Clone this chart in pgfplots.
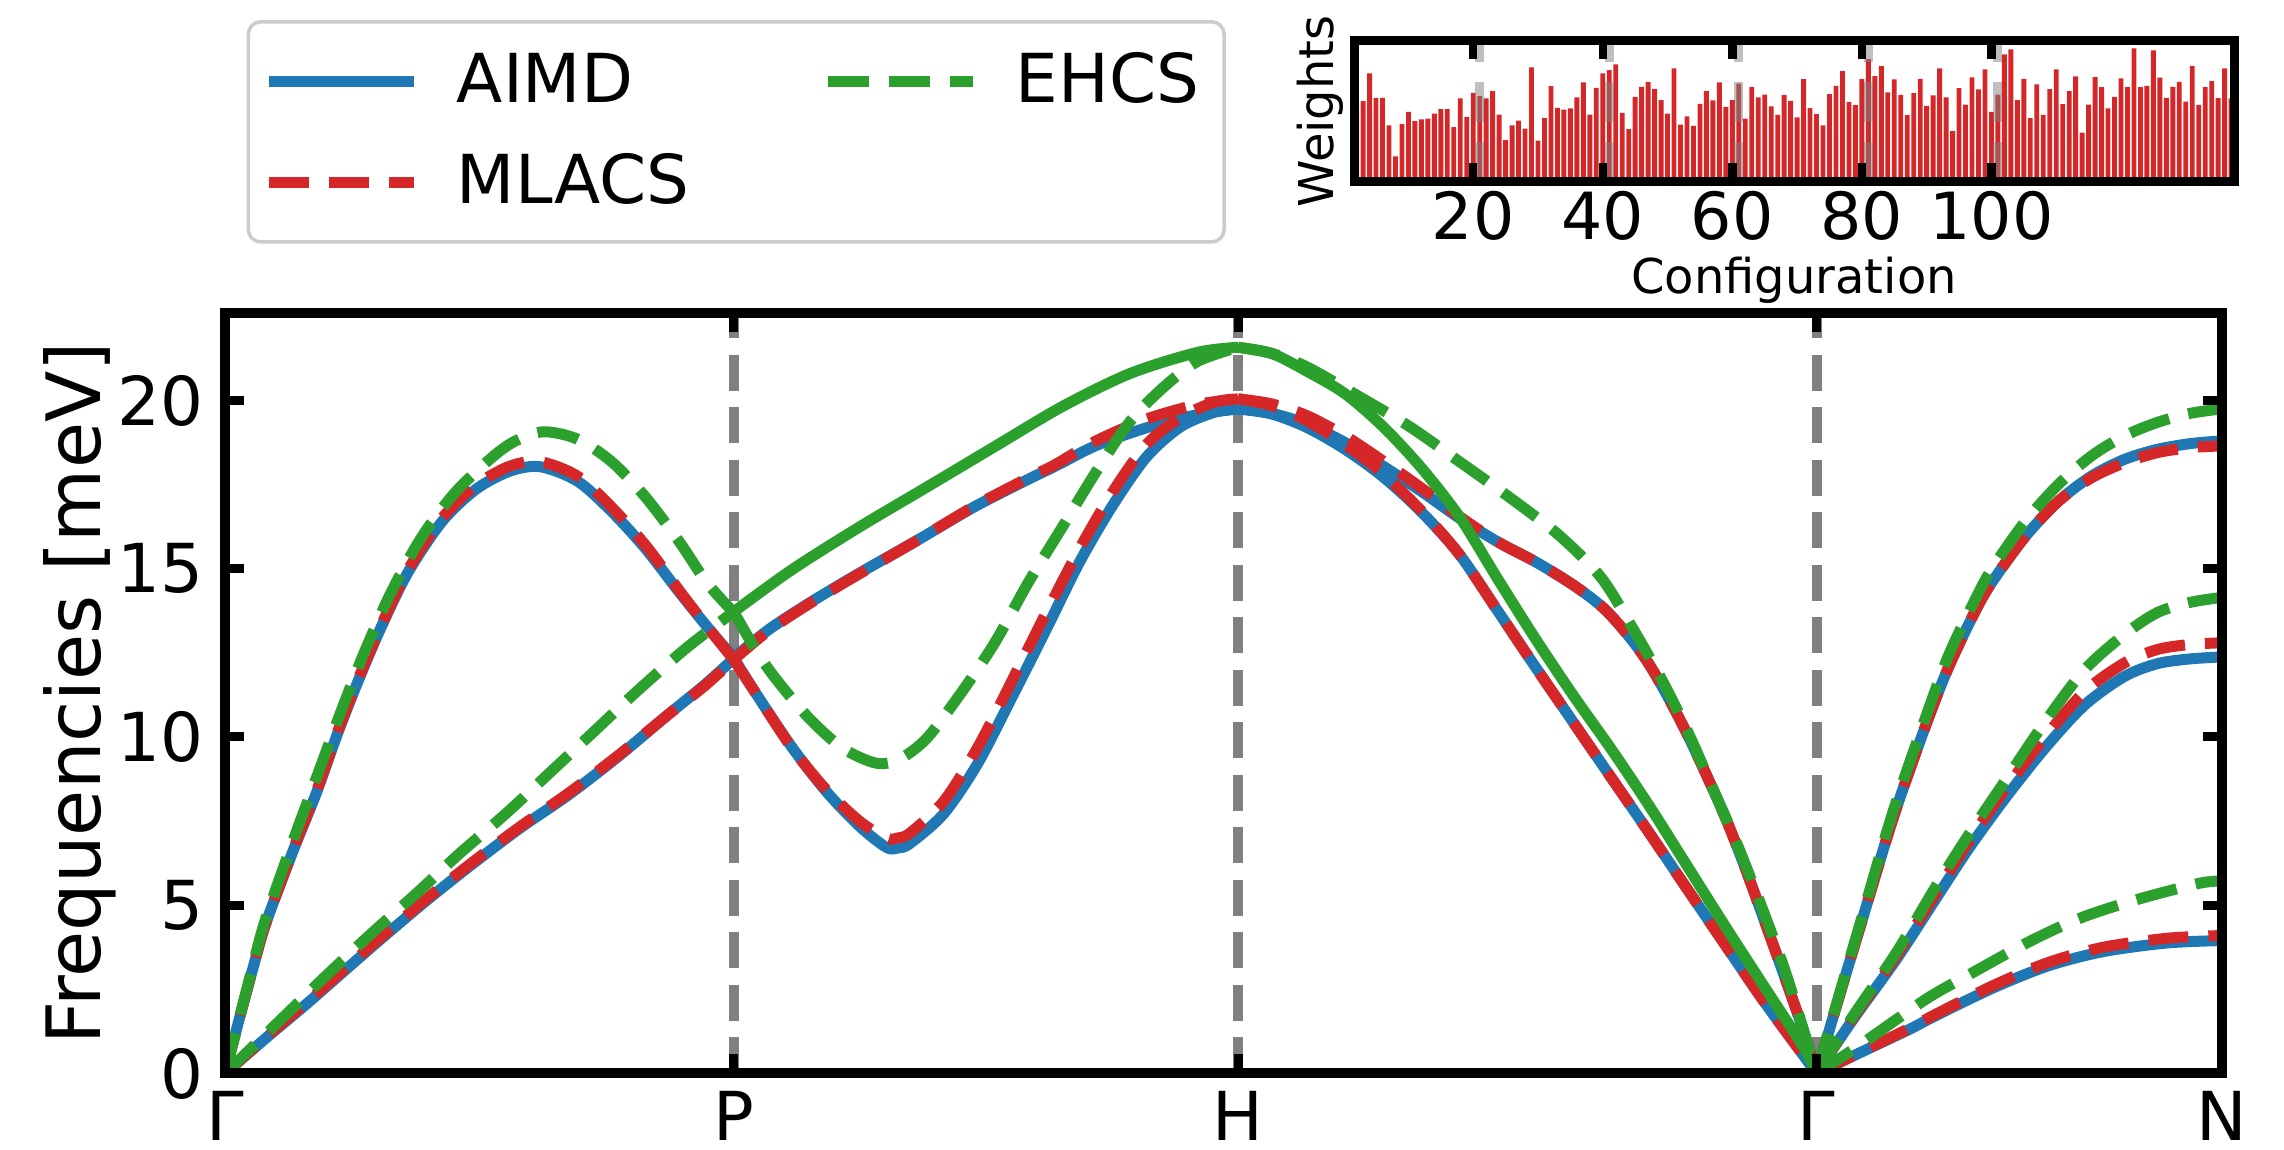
\documentclass[border=0pt]{standalone}
\usepackage{fontspec}
\setmainfont{DejaVu Sans}
\usepackage{pgfplots}
\pgfplotsset{compat=1.18}
\definecolor{tabblue}{HTML}{1F77B4}
\definecolor{tabred}{HTML}{D62728}
\definecolor{tabgreen}{HTML}{2CA02C}
\definecolor{midgray}{HTML}{808080}

\pgfplotsset{
  aimd/.style={tabblue, line width=2.2pt, smooth, tension=0.5, line join=round, forget plot},
  mlacs/.style={tabred, line width=2.2pt, dash pattern=on 8pt off 4pt, smooth, tension=0.5, forget plot},
  ehcs/.style={tabgreen, line width=2.2pt, dash pattern=on 8.3pt off 3.9pt, smooth, tension=0.5, forget plot},
  ehcssolid/.style={tabgreen, line width=2.2pt, smooth, tension=0.5, line join=round, forget plot},
  vline/.style={midgray, line width=2pt, dash pattern=on 7.2pt off 3.3pt, forget plot},
}

\begin{document}
\begin{tikzpicture}
\useasboundingbox (0,0) rectangle (456.8pt,229.8pt);

% main dispersion
\begin{axis}[
  at={(45pt,15.1pt)}, anchor=south west,
  scale only axis, width=399.4pt, height=152.1pt,
  xmin=0, xmax=1374, ymin=0, ymax=22.6,
  xtick={0,350,697,1095,1374}, xticklabels={Γ,P,H,Γ,N},
  ytick={0,5,10,15,20},
  tick align=inside, tick pos=both,
  major tick length=3.8pt,
  tick style={black, line width=1.8pt},
  axis line style={line width=2pt},
  tick label style={font=\fontsize{13.5}{16}\selectfont},
  yticklabel style={xshift=-0.8pt},
  /pgf/number format/assume math mode=true,
  ylabel={Frequencies [meV]},
  ylabel style={at={(axis description cs:-0.0726,0.5)}, anchor=center, font=\fontsize{15}{17}\selectfont},
  axis on top,
  legend columns=2, legend cell align=left,
  legend image code/.code={\draw[#1] (0pt,0pt) -- (29pt,0pt);},
  legend style={
    at={(axis description cs:0.0108,1.3852)}, anchor=north west,
    draw=black!20, line width=0.7pt, rounded corners=2.5pt, fill=white,
    font=\fontsize{13.5}{16}\selectfont,
    inner xsep=3pt, inner ysep=4.2pt, row sep=4.6pt,
    nodes={inner sep=2pt},
    /tikz/every odd column/.append style={column sep=5.5pt},
    /tikz/every even column/.append style={column sep=24.6pt},
  },
]
\addplot[vline] coordinates {(350,0) (350,22.6)};
\addplot[vline] coordinates {(697,0) (697,22.6)};
\addplot[vline] coordinates {(1095,0) (1095,22.6)};

% AIMD
\addplot[aimd] coordinates {(0,0) (10,1.65) (20,3.25) (28,4.45) (46.7,6.6) (63,8.35) (77,10.05) (91,11.6) (107.3,13.25) (126,14.9) (149.3,16.4) (172.6,17.36) (196,17.9) (217,18.03) (242.6,17.6) (266,16.7) (289.3,15.6) (312.6,14.3) (331.3,13.3) (350,12.35)};
\addplot[aimd] coordinates {(0,0) (30,1.12) (57,2.1) (102,3.8) (137.5,5.1) (169.5,6.2) (202.6,7.28) (237,8.3) (271.4,9.45) (304.5,10.65) (330,11.55) (350,12.33)};
\addplot[aimd] coordinates {(350,12.35) (373.7,13.18) (401.6,13.97) (436.5,14.87) (476.1,15.84) (515.6,16.84) (552.8,17.66) (571.4,18.05) (599.3,18.66) (634.2,19.19) (669.1,19.58) (697,19.75)};
\addplot[aimd] coordinates {(350,12.35) (366.7,11.2) (390,9.7) (413.3,8.4) (436.5,7.35) (455,6.72) (463,6.7) (471.4,6.84) (494.7,7.73) (518,9.22) (541.2,11.16) (564.5,13.15) (588,15.2) (611,16.9) (634.2,18.33) (657.5,19.22) (680.8,19.65) (697,19.75)};
\addplot[aimd] coordinates {(697,19.75) (720,19.6) (744.3,19.2) (770.6,18.55) (796.8,17.73) (823.1,16.69) (849.4,15.42) (875.6,13.75) (901.9,12.06) (928.2,10.4) (954.4,8.75) (980.7,7.1) (1007,5.42) (1033.3,3.75) (1059.5,2.1) (1085.8,0.55) (1095,0)};
\addplot[aimd] coordinates {(697,19.75) (720,19.62) (744.3,19.3) (770.6,18.75) (796.8,18.05) (823.1,17.3) (849.4,16.5) (875.6,15.8) (901.9,15.2) (928.2,14.5) (949.2,13.8) (967.6,12.9) (980.7,12.1) (993.9,11.1) (1007,10.0) (1020,8.8) (1033.3,7.5) (1046,6.1) (1059.5,4.5) (1072,3.0) (1085.8,1.3) (1095,0)};
\addplot[aimd] coordinates {(1095,0) (1110,2.2) (1124.6,4.3) (1147.4,7.55) (1170.2,10.35) (1186.1,12.1) (1204.3,13.75) (1215.7,14.6) (1238.5,15.95) (1261.3,17.0) (1284.1,17.75) (1306.9,18.25) (1329.6,18.55) (1352.4,18.72) (1374,18.8)};
\addplot[aimd] coordinates {(1095,0) (1120,1.6) (1150,3.4) (1177,5.19) (1199.8,6.69) (1224.8,8.18) (1252.2,9.67) (1279.5,10.95) (1306.9,11.8) (1329.6,12.18) (1352,12.32) (1374,12.38)};
\addplot[aimd] coordinates {(1095,0) (1125,0.62) (1158.8,1.31) (1177,1.72) (1216.9,2.55) (1254.5,3.2) (1292,3.62) (1336.5,3.88) (1374,3.95)};

% MLACS
\addplot[mlacs] coordinates {(0,0) (10,1.65) (20,3.25) (28,4.45) (46.7,6.63) (63,8.4) (77,10.1) (91,11.65) (107.3,13.3) (126,14.97) (149.3,16.5) (172.6,17.48) (196,18.05) (217,18.18) (242.6,17.75) (266,16.83) (289.3,15.7) (312.6,14.35) (331.3,13.3) (350,12.3)};
\addplot[mlacs] coordinates {(0,0) (30,1.15) (57,2.15) (102,3.85) (137.5,5.15) (169.5,6.25) (202.6,7.32) (237,8.35) (271.4,9.48) (304.5,10.65) (330,11.52) (350,12.3)};
\addplot[mlacs] coordinates {(350,12.3) (373.7,13.15) (401.6,13.95) (436.5,14.85) (476.1,15.84) (515.6,16.86) (552.8,17.7) (571.4,18.1) (599.3,18.8) (634.2,19.45) (669.1,19.88) (697,20.05)};
\addplot[mlacs] coordinates {(350,12.3) (366.7,11.2) (390,9.68) (413.3,8.45) (436.5,7.5) (455,7.0) (463,7.0) (471.4,7.15) (494.7,8.1) (518,9.7) (541.2,11.65) (564.5,13.65) (588,15.6) (611,17.3) (634.2,18.7) (657.5,19.5) (680.8,19.95) (697,20.05)};
\addplot[mlacs] coordinates {(697,20.05) (720,19.85) (744.3,19.4) (770.6,18.7) (796.8,17.82) (823.1,16.72) (849.4,15.42) (875.6,13.75) (901.9,12.06) (928.2,10.4) (954.4,8.75) (980.7,7.1) (1007,5.42) (1033.3,3.75) (1059.5,2.1) (1085.8,0.55) (1095,0)};
\addplot[mlacs] coordinates {(697,20.05) (720,19.9) (744.3,19.55) (770.6,18.95) (796.8,18.2) (823.1,17.4) (849.4,16.55) (875.6,15.8) (901.9,15.2) (928.2,14.5) (949.2,13.8) (967.6,12.9) (980.7,12.1) (993.9,11.1) (1007,10.0) (1020,8.8) (1033.3,7.5) (1046,6.1) (1059.5,4.5) (1072,3.0) (1085.8,1.3) (1095,0)};
\addplot[mlacs] coordinates {(1095,0) (1110,2.2) (1124.6,4.3) (1147.4,7.55) (1170.2,10.35) (1186.1,12.1) (1204.3,13.75) (1215.7,14.6) (1238.5,15.95) (1261.3,17.0) (1284.1,17.7) (1306.9,18.15) (1329.6,18.45) (1352.4,18.6) (1374,18.65)};
\addplot[mlacs] coordinates {(1095,0) (1120,1.65) (1150,3.5) (1177,5.35) (1199.8,6.9) (1224.8,8.45) (1252.2,10.0) (1279.5,11.35) (1306.9,12.2) (1329.6,12.6) (1352,12.75) (1374,12.8)};
\addplot[mlacs] coordinates {(1095,0) (1125,0.63) (1158.8,1.34) (1177,1.76) (1216.9,2.62) (1254.5,3.3) (1292,3.75) (1336.5,4.02) (1374,4.1)};

% EHCS
\addplot[ehcs] coordinates {(0,0) (9.3,1.55) (20,3.35) (28,4.6) (46.7,6.9) (63,8.8) (79.3,10.7) (95.7,12.5) (114.3,14.3) (135.3,15.94) (158.6,17.28) (184.3,18.33) (200,18.8) (219.3,19.07) (242.6,18.85) (266,18.18) (289.3,17.13) (312.6,15.8) (331.3,14.6) (350,13.7)};
\addplot[ehcs] coordinates {(0,0) (37.9,1.58) (68.7,2.87) (100.7,4.16) (130.4,5.3) (161.2,6.53) (193.2,7.72) (224,8.96) (254.8,10.2) (283.2,11.35) (317.6,12.65) (350,13.72)};
\addplot[ehcs] coordinates {(350,13.72) (365,12.6) (378.4,11.76) (401.6,10.57) (424.9,9.67) (448.2,9.22) (464.4,9.35) (483,9.97) (506.3,11.3) (529.6,12.8) (552.8,14.6) (576.1,16.24) (599.3,17.88) (622.6,19.37) (645.9,20.4) (669.1,21.16) (697,21.58)};
\addplot[ehcssolid] coordinates {(350,13.72) (390,14.97) (436.5,16.24) (483,17.43) (529.6,18.63) (576.1,19.82) (622.6,20.8) (669.1,21.43) (697,21.58)};
\addplot[ehcssolid] coordinates {(697,21.58) (720,21.4) (744.3,20.87) (770.6,20.2) (796.8,19.22) (823.1,18.0) (849.4,16.54) (875.6,14.7) (901.9,12.9) (928.2,11.2) (954.4,9.6) (980.7,7.9) (1007,6.1) (1033.3,4.3) (1059.5,2.55) (1085.8,0.8) (1095,0)};
\addplot[ehcs] coordinates {(697,21.58) (720,21.4) (744.3,21.0) (781,20.1) (815.2,19.22) (849.4,18.18) (883.5,17.13) (917.7,16.0) (946.6,14.75) (967.6,13.3) (988.6,11.7) (1007,10.1) (1025.4,8.3) (1041,6.75) (1059.5,4.7) (1075.3,2.8) (1095,0)};
\addplot[ehcs] coordinates {(1095,0) (1110,2.25) (1124.6,4.4) (1147.4,7.75) (1170.2,10.6) (1186.1,12.45) (1204.3,14.1) (1215.7,15.0) (1238.5,16.4) (1261.3,17.5) (1284.1,18.35) (1306.9,18.95) (1329.6,19.35) (1352.4,19.62) (1374,19.75)};
\addplot[ehcs] coordinates {(1095,0) (1120,1.7) (1150,3.6) (1177,5.55) (1199.8,7.1) (1224.8,8.7) (1252.2,10.45) (1279.5,12.0) (1306.9,13.05) (1329.6,13.7) (1352,14.0) (1374,14.15)};
\addplot[ehcs] coordinates {(1095,0) (1125,0.85) (1170,2.2) (1200.9,2.96) (1241.9,3.93) (1277.2,4.63) (1314.8,5.16) (1358.1,5.65) (1374,5.72)};

\addlegendimage{tabblue, line width=2.2pt}
\addlegendentry{AIMD}
\addlegendimage{tabgreen, line width=2.2pt, dash pattern=on 8.3pt off 3.9pt}
\addlegendentry{EHCS}
\addlegendimage{tabred, line width=2.2pt, dash pattern=on 8pt off 4pt}
\addlegendentry{MLACS}
\end{axis}

% inset: weights of configurations
\begin{axis}[
  at={(270.8pt,193.4pt)}, anchor=south west,
  scale only axis, width=176pt, height=28.2pt,
  xmin=1.6, xmax=137.45, ymin=-3.8, ymax=103.6,
  xtick={20,40,60,80,100}, ytick=\empty,
  tick align=inside, xtick pos=both,
  major tick length=3.7pt,
  tick style={black, line width=1.7pt},
  axis line style={line width=1.8pt},
  tick label style={font=\fontsize{13}{15}\selectfont},
  xticklabel style={yshift=1.7pt},
  /pgf/number format/assume math mode=true,
  xlabel={Configuration}, ylabel={Weights},
  xlabel style={at={(axis description cs:0.5,0)}, anchor=center, yshift=-19.6pt, font=\fontsize{9.6}{11}\selectfont},
  ylabel style={at={(axis description cs:-0.0386,0.5)}, anchor=center, font=\fontsize{9.6}{11}\selectfont},
  axis on top,
]
\addplot[ybar, bar width=0.75, fill=tabred, draw=none] coordinates {
(2,50.1) (3,57.8) (4,78.9) (5,60.3) (6,60.3) (7,39.4) (8,15.8) (9,40.2) (10,49.6) (11,42.5)
(12,43.8) (13,44.5) (14,48.3) (15,51.7) (16,51.7) (17,37.9) (18,59.8) (19,45.8) (20,64.1) (21,61.6)
(22,59.8) (23,65.4) (24,47.6) (25,28.0) (26,39.4) (27,43.0) (28,36.9) (29,83.5) (30,27.7) (31,45.0)
(32,69.2) (33,52.7) (34,51.4) (35,52.2) (36,60.6) (37,72.0) (38,47.6) (39,67.9) (40,78.9) (41,81.4)
(42,85.8) (43,48.9) (44,36.4) (45,61.1) (46,68.7) (47,72.5) (48,66.9) (49,58.5) (50,48.3) (51,82.7)
(52,39.9) (53,46.1) (54,38.9) (55,55.7) (56,65.4) (57,58.3) (58,72.0) (59,53.4) (60,58.5) (61,71.2)
(62,44.5) (63,68.4) (64,60.6) (65,62.8) (66,53.7) (67,47.3) (68,62.3) (69,58.0) (70,45.5) (71,74.6)
(72,52.4) (73,47.8) (74,39.4) (75,63.1) (76,69.5) (77,80.7) (78,57.3) (79,54.7) (80,74.6) (81,89.8)
(82,76.8) (83,84.5) (84,64.4) (85,74.3) (86,62.6) (87,47.1) (88,63.9) (89,74.8) (90,54.2) (91,62.1)
(92,82.7) (93,60.6) (94,34.9) (95,67.7) (96,55.2) (97,75.8) (98,66.7) (99,81.9) (100,49.6) (101,62.8)
(102,93.4) (103,97.2) (104,58.5) (105,74.8) (106,44.8) (107,70.5) (108,47.3) (109,66.9) (110,81.9) (111,55.5)
(112,65.4) (113,76.6) (114,33.8) (115,55.2) (116,76.1) (117,68.4) (118,52.2) (119,61.1) (120,75.1) (121,68.4)
(122,98.0) (123,68.4) (124,69.5) (125,96.4) (126,75.6) (127,60.3) (128,68.7) (129,72.5) (130,57.5) (131,84.7)
(132,55.0) (133,68.4) (134,73.0) (135,60.1) (136,82.7) (137,59.8)
};
\addplot[midgray, opacity=0.5, line width=1.8pt, dash pattern=on 8pt off 4pt] coordinates {(21,-3.8) (21,103.6)};
\addplot[midgray, opacity=0.5, line width=1.8pt, dash pattern=on 8pt off 4pt] coordinates {(41,-3.8) (41,103.6)};
\addplot[midgray, opacity=0.5, line width=1.8pt, dash pattern=on 8pt off 4pt] coordinates {(61,-3.8) (61,103.6)};
\addplot[midgray, opacity=0.5, line width=1.8pt, dash pattern=on 8pt off 4pt] coordinates {(81,-3.8) (81,103.6)};
\addplot[midgray, opacity=0.5, line width=1.8pt, dash pattern=on 8pt off 4pt] coordinates {(101,-3.8) (101,103.6)};
\end{axis}
\end{tikzpicture}
\end{document}
